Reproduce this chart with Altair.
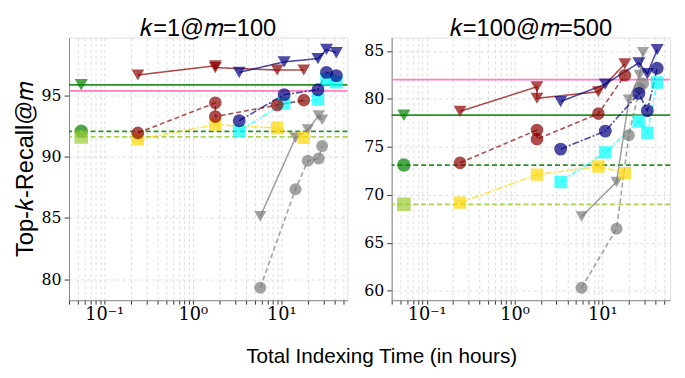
import altair as alt
import pandas as pd

# ---------------- data ----------------
# indexing times (hours) shared by both panels
T_BROWN = [0.24, 1.8, 1.8, 9.0, 18.0]
T_GOLD = [0.24, 1.8, 9.0, 18.0]
T_NAVY = [3.35, 10.8, 26.0, 32.5, 42.0]
T_GRAY = [5.8, 14.5, 20.0, 26.5, 29.0]
T_BASE = 0.055

SERIES = ["gray_circ", "gray_tri", "gold_sq", "cyan_sq",
          "brown_circ", "brown_tri", "navy_circ", "navy_tri"]
BASE_NAMES = ["green_solid", "pink_solid", "green_dash", "yg_dash"]

# panel 1: k=1@m=100
P1_GRAY_CIRC = [79.32, 87.34, 89.66, 89.85, 90.86]
P1_GRAY_TRI = [85.13, 91.53, 92.2, 93.34, 93.0]
P1_GOLD_SQ = [91.4, 92.6, 92.33, 91.53]
P1_CYAN_SQ = [92.1, 94.33, 94.65, 96.3, 96.06]
P1_BROWN_CIRC = [91.93, 94.38, 93.26, 94.2, 94.6]
P1_BROWN_TRI = [96.65, 97.4, 97.25, 97.05, 97.05]
P1_NAVY_CIRC = [92.92, 95.05, 95.45, 96.86, 96.6]
P1_NAVY_TRI = [96.86, 97.72, 97.98, 98.73, 98.46]
P1_BASE = [95.85, 95.35, 92.06, 91.6]

# panel 2: k=100@m=500
P2_GRAY_CIRC = [60.29, 66.45, 76.2, 81.1, 81.6]
P2_GRAY_TRI = [67.74, 71.33, 79.9, 82.5, 84.86]
P2_GOLD_SQ = [69.18, 72.1, 72.95, 72.26]
P2_CYAN_SQ = [71.33, 74.42, 77.67, 76.47, 81.7]
P2_BROWN_CIRC = [73.33, 76.75, 75.8, 78.46, 82.46]
P2_BROWN_TRI = [78.7, 81.26, 80.06, 80.75, 83.65]
P2_NAVY_CIRC = [74.76, 76.64, 80.57, 78.77, 83.2]
P2_NAVY_TRI = [79.72, 81.54, 83.76, 82.63, 85.13]
P2_BASE = [78.3, 82.0, 73.1, 69.0]

X_TICKS = ([0.04, 0.05, 0.06, 0.07, 0.08, 0.09]
           + [0.1, 0.2, 0.3, 0.4, 0.5, 0.6, 0.7, 0.8, 0.9]
           + [1, 2, 3, 4, 5, 6, 7, 8, 9]
           + [10, 20, 30, 40, 50])

# ---------------- styles ----------------
TIMES = {"gray_circ": T_GRAY, "gray_tri": T_GRAY, "gold_sq": T_GOLD, "cyan_sq": T_NAVY,
         "brown_circ": T_BROWN, "brown_tri": T_BROWN, "navy_circ": T_NAVY, "navy_tri": T_NAVY}
ALL_NAMES = SERIES + BASE_NAMES
COLORS = ["#7a7a7a", "#7a7a7a", "#ffd700", "#00ffff", "#8b0000", "#8b0000",
          "#000080", "#000080", "#008000", "#ff69b4", "#008000", "#9acd32"]
DASHES = [[5, 3], [1, 0], [7, 2, 2, 2], [5, 2, 1.5, 2, 1.5, 2], [5, 3], [1, 0],
          [7, 2, 2, 2], [1, 0], [1, 0], [1, 0], [5, 3], [5, 3]]
SHAPES = ["circle", "triangle-down", "square", "square", "circle", "triangle-down",
          "circle", "triangle-down", "triangle-down", "circle", "circle", "square"]
SIZES = [150, 190, 140, 140, 150, 190, 150, 190, 190, 150, 150, 140]

color_scale = alt.Scale(domain=ALL_NAMES, range=COLORS)
dash_scale = alt.Scale(domain=ALL_NAMES, range=DASHES)
shape_scale = alt.Scale(domain=ALL_NAMES, range=SHAPES)
size_scale = alt.Scale(domain=ALL_NAMES, range=SIZES)

SERIF = "DejaVu Serif"
SANS = "Liberation Sans"


def build(values, base):
    rows = []
    for name, vals in zip(SERIES, values):
        for i, (t, r) in enumerate(zip(TIMES[name], vals)):
            rows.append({"series": name, "idx": i, "time": t, "recall": r})
    lines = pd.DataFrame(rows)
    rules = pd.DataFrame({"series": BASE_NAMES, "recall": base})
    bpts = pd.DataFrame({"series": [n for n in BASE_NAMES if n != "pink_solid"],
                         "idx": 0, "time": T_BASE,
                         "recall": [v for n, v in zip(BASE_NAMES, base) if n != "pink_solid"]})
    pts = pd.concat([bpts, lines], ignore_index=True)
    return lines, rules, pts


LABEL_EXPR = ("abs(datum.value-0.1)<1e-9 ? '10⁻¹' : abs(datum.value-1)<1e-9 ? '10⁰' : "
              "abs(datum.value-10)<1e-9 ? '10¹' : ''")


def panel(values, base, title, xdom, ydom, yvals, ytitle):
    lines, rules, pts = build(values, base)
    x = alt.X("time:Q",
              scale=alt.Scale(type="log", domain=xdom, nice=False),
              axis=alt.Axis(values=X_TICKS, labelExpr=LABEL_EXPR, title=None,
                            grid=True, gridDash=[3, 3], gridColor="#dcdcdc",
                            labelFont=SERIF, labelFontSize=18,
                            labelColor="black", tickColor="#333", tickSize=4,
                            labelPadding=2, labelFlush=False, labelOverlap=False))
    y = alt.Y("recall:Q",
              scale=alt.Scale(domain=ydom, nice=False, zero=False),
              axis=alt.Axis(values=yvals, title=ytitle, grid=True, gridDash=[3, 3],
                            gridColor="#dcdcdc", labelFont=SERIF,
                            labelFontSize=16, labelColor="black", tickColor="#333",
                            tickSize=5, labelPadding=3, titleFont=SANS,
                            titleFontSize=24, titleFontWeight="normal",
                            titleColor="black", titlePadding=4))
    color = alt.Color("series:N", scale=color_scale, legend=None)
    rule_layer = alt.Chart(rules).mark_rule(strokeWidth=1.8, opacity=0.85).encode(
        y=y, color=color,
        strokeDash=alt.StrokeDash("series:N", scale=dash_scale, legend=None))
    line_layer = alt.Chart(lines).mark_line(strokeWidth=1.6, opacity=0.7, clip=True).encode(
        x=x, y=y, color=color,
        strokeDash=alt.StrokeDash("series:N", scale=dash_scale, legend=None),
        order="idx:Q")
    pt_layer = alt.Chart(pts).mark_point(filled=True, opacity=0.7, clip=True).encode(
        x=x, y=y, color=color,
        shape=alt.Shape("series:N", scale=shape_scale, legend=None),
        size=alt.Size("series:N", scale=size_scale, legend=None))
    return alt.layer(rule_layer, line_layer, pt_layer).properties(
        width=283, height=267,
        title=alt.TitleParams(title, font=SANS, fontSize=24,
                              fontWeight="normal", color="black", offset=-3))


p1 = panel([P1_GRAY_CIRC, P1_GRAY_TRI, P1_GOLD_SQ, P1_CYAN_SQ,
            P1_BROWN_CIRC, P1_BROWN_TRI, P1_NAVY_CIRC, P1_NAVY_TRI],
           P1_BASE, "𝑘=1@𝑚=100", [0.04, 56], [78.3, 99.7], [80, 85, 90, 95],
           "Top-𝑘-Recall@𝑚")
p2 = panel([P2_GRAY_CIRC, P2_GRAY_TRI, P2_GOLD_SQ, P2_CYAN_SQ,
            P2_BROWN_CIRC, P2_BROWN_TRI, P2_NAVY_CIRC, P2_NAVY_TRI],
           P2_BASE, "𝑘=100@𝑚=500", [0.04, 59], [59.0, 86.4],
           [60, 65, 70, 75, 80, 85], None)

chart = alt.hconcat(p1, p2, spacing=14).properties(
    title=alt.TitleParams("Total Indexing Time (in hours)", orient="bottom",
                          anchor="middle", font=SANS, fontSize=21,
                          fontWeight="normal", color="black", dx=40, offset=22)
).configure_view(stroke="#333", strokeWidth=1.2).configure_axis(
    domain=False
).configure_concat(spacing=14).configure(background="white")

chart.save("out.html", embed_options={"renderer": "svg", "actions": False})
